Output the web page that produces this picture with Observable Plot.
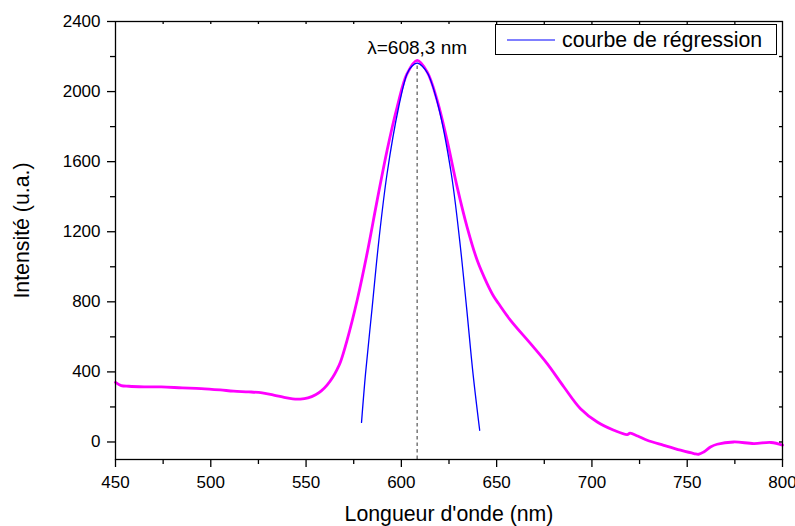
<!DOCTYPE html>
<html><head><meta charset="utf-8">
<script src="https://cdn.jsdelivr.net/npm/d3@7"></script>
<script src="https://cdn.jsdelivr.net/npm/@observablehq/plot@0.6"></script>
<style>
body{margin:0;background:#fff;}
#wrap{position:relative;width:795px;height:526px;background:#fff;}
#legend{position:absolute;left:495px;top:24px;width:282px;height:31px;border:1px solid #000;background:#fff;box-sizing:border-box;}
#legend svg{display:block;}
</style></head><body><div id="wrap"><div id="legend"></div></div>
<script>
// Spectre mesuré (nm, u.a.)
const wavelength = [450,453,457,465,474,485,495,505,512,520,527,533,538,543,547,551,555,558,561,564,566.3,568,571.5,576.8,582,587.3,592.5,597.8,603,608.3,613.6,618.8,624,629.3,634.5,639.8,645,648.5,651,657.3,667.8,676.5,685.3,694,702.8,711.5,718.5,720,724,729,737.7,746.5,753.5,756,758.7,762.2,765.7,774.4,785,794,800];
const intensity  = [340,322,318,315,314,309,305,297,290,286,280,268,256,246,245,252,270,292,325,370,415,455,580,809,1075,1379,1664,1912,2102,2178,2111,1950,1722,1455,1227,1037,904,830,790,694,561,447,314,190,114,67,42,50,34,10,-19,-47,-66,-70,-57,-29,-13,0,-9,-3,-18];
// Courbe de régression
const fitWavelength = [579.1,581.2,584.7,588.2,592.5,598.6,603,605.5,608.3,611,614,619.5,626.2,630.6,634.2,637.6,641.1];
const fitIntensity  = [112,390,770,1151,1531,1912,2102,2145,2162,2145,2100,1912,1531,1151,770,390,67];
// Pic
const peakWavelength = [608.3];
const peakIntensity = [2165];
const peakLabel = ["λ=608,3 nm"];
// Axes
const xDomain = [450, 800];
const yDomain = [-100, 2400];
const xTicks = [450,500,550,600,650,700,750,800];
const xMinorTicks = [475,525,575,625,675,725,775];
const xTopTicks = [475,500,525,550,575,600,625,650,675,700,725,750,775];
const yTicks = [0,400,800,1200,1600,2000,2400];
const yMinorTicks = [200,600,1000,1400,1800,2200];
const yRightTicks = [0,200,400,600,800,1000,1200,1400,1600,1800,2000,2200];
const xLabel = "Longueur d'onde (nm)";
const yLabel = "Intensité (u.a.)";
const legendLabel = "courbe de régression";

const spectrum = wavelength.map((x, i) => ({x, y: intensity[i]}));
const fit = fitWavelength.map((x, i) => ({x, y: fitIntensity[i]}));
const peak = peakWavelength.map((x, i) => ({x, y: peakIntensity[i], label: peakLabel[i]}));

const font = '"Liberation Sans", Arial, sans-serif';
const chart = Plot.plot({
  width: 795, height: 526,
  marginLeft: 115, marginRight: 13, marginTop: 21, marginBottom: 67,
  style: {fontFamily: font, fontSize: "17px", color: "#000", background: "#fff", overflow: "visible"},
  x: {domain: xDomain},
  y: {domain: yDomain},
  marks: [
    Plot.line(spectrum, {x: "x", y: "y", stroke: "#ff00ff", strokeWidth: 2.8, curve: "catmull-rom"}),
    Plot.ruleX(peak, {x: "x", y1: yDomain[0], y2: "y", stroke: "#777", strokeWidth: 1.5, strokeDasharray: "3.5,3"}),
    Plot.line(fit, {x: "x", y: "y", stroke: "#0000ff", strokeWidth: 1.3, curve: "catmull-rom"}),
    Plot.text(peak, {x: "x", frameAnchor: "top", dy: 26, lineAnchor: "middle", text: "label", fontSize: 19}),
    Plot.axisX({ticks: xTicks, tickSize: 8, tickPadding: 8, strokeWidth: 1.3, tickFormat: d => String(d), label: null}),
    Plot.axisX({ticks: xMinorTicks, tickSize: 5, tickFormat: () => "", strokeWidth: 1.3, label: null}),
    Plot.axisY({ticks: yTicks, tickSize: 8, tickPadding: 7, strokeWidth: 1.3, tickFormat: d => String(d), label: null}),
    Plot.axisY({ticks: yMinorTicks, tickSize: 5, tickFormat: () => "", strokeWidth: 1.3, label: null}),
    Plot.tickX(xTopTicks, {x: d => d, insetBottom: 435, strokeWidth: 1.3}),
    Plot.tickY(yRightTicks, {y: d => d, insetLeft: 664, strokeWidth: 1.3}),
    Plot.frame({stroke: "#000", strokeWidth: 1.3}),
    Plot.text([xLabel], {frameAnchor: "bottom", dy: 55, lineAnchor: "middle", textAnchor: "middle", text: d => d, fontSize: 21.3}),
    Plot.text([yLabel], {frameAnchor: "left", dx: -93, dy: -10, rotate: -90, lineAnchor: "middle", textAnchor: "middle", text: d => d, fontSize: 21.3})
  ]
});
document.getElementById("wrap").insertBefore(chart, document.getElementById("legend"));

const lg = d3.select("#legend").append("svg").attr("width", 280).attr("height", 29);
lg.append("line").attr("x1", 11).attr("x2", 59).attr("y1", 15).attr("y2", 15)
  .attr("stroke", "#0000ff").attr("stroke-width", 1);
lg.append("text").attr("x", 66).attr("y", 22).attr("font-family", font).attr("font-size", 21.3)
  .attr("fill", "#000").text(legendLabel);
</script>
</body></html>
